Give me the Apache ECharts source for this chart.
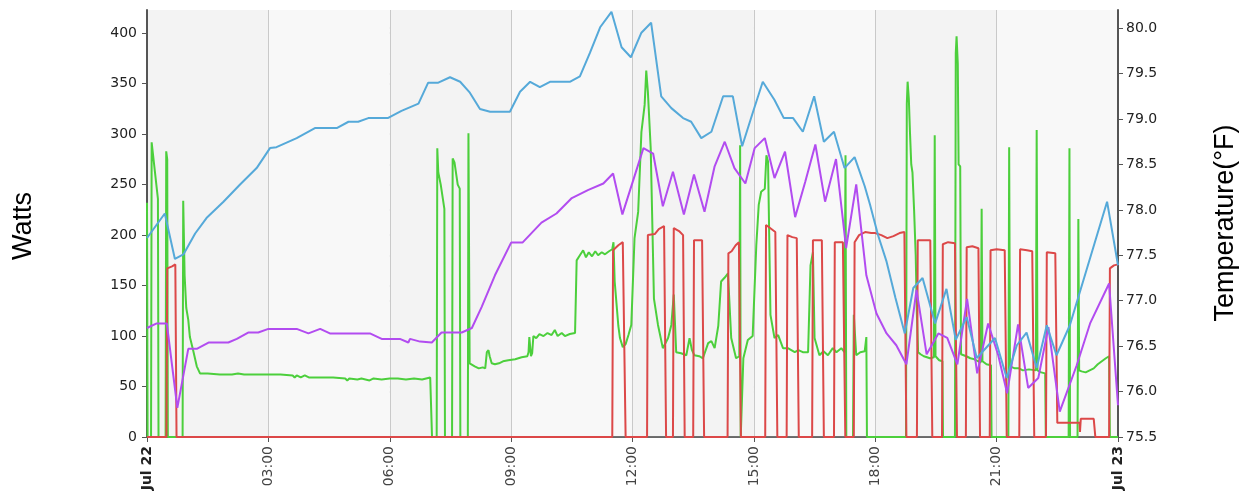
<!DOCTYPE html>
<html>
<head>
<meta charset="utf-8">
<script src="https://cdn.jsdelivr.net/npm/echarts@6/dist/echarts.min.js"></script>
<style>
  html, body { margin: 0; padding: 0; background: #ffffff; }
  #chart { width: 1247px; height: 500px; }
</style>
</head>
<body>
<div id="chart"></div>
<script>
// Hours since midnight on Jul 22, one tick every three hours
const timeTicks = [0, 3, 6, 9, 12, 15, 18, 21, 24];
const timeTickLabels = ['Jul 22', '03:00', '06:00', '09:00', '12:00', '15:00', '18:00', '21:00', 'Jul 23'];
const wattTicks = [0, 50, 100, 150, 200, 250, 300, 350, 400];
const tempTicks = [75.5, 76.0, 76.5, 77.0, 77.5, 78.0, 78.5, 79.0, 79.5, 80.0];

// Temperature readings [hour, °F]
const tempBlue = [
  [0, 77.69], [0.44, 77.96], [0.69, 77.46], [0.90, 77.51], [1.19, 77.74], [1.47, 77.91],
  [1.89, 78.09], [2.30, 78.28], [2.71, 78.46], [3.04, 78.68], [3.20, 78.69], [3.70, 78.79],
  [4.15, 78.90], [4.69, 78.90], [4.98, 78.97], [5.22, 78.97], [5.47, 79.01], [5.95, 79.01],
  [6.29, 79.09], [6.71, 79.17], [6.95, 79.40], [7.20, 79.40], [7.49, 79.46], [7.74, 79.41],
  [7.98, 79.29], [8.23, 79.11], [8.48, 79.08], [8.97, 79.08], [9.22, 79.30], [9.47, 79.41],
  [9.71, 79.35], [9.96, 79.41], [10.45, 79.41], [10.70, 79.47], [10.95, 79.73], [11.20, 80.01],
  [11.48, 80.18], [11.73, 79.79], [11.96, 79.68], [12.22, 79.95], [12.46, 80.06], [12.71, 79.25],
  [12.96, 79.12], [13.25, 79.01], [13.45, 78.97], [13.70, 78.79], [13.95, 78.86], [14.24, 79.25],
  [14.48, 79.25], [14.71, 78.70], [14.98, 79.08], [15.22, 79.41], [15.51, 79.21], [15.74, 79.01],
  [15.97, 79.01], [16.21, 78.86], [16.49, 79.25], [16.73, 78.75], [16.98, 78.86], [17.24, 78.46],
  [17.49, 78.58], [17.74, 78.26], [17.87, 78.06], [18.07, 77.72], [18.28, 77.43], [18.50, 77.03],
  [18.73, 76.64], [18.94, 77.14], [19.17, 77.25], [19.48, 76.75], [19.76, 77.13], [19.99, 76.57],
  [20.26, 76.82], [20.51, 76.37], [20.96, 76.59], [21.25, 76.15], [21.50, 76.51], [21.74, 76.65],
  [21.99, 76.26], [22.24, 76.73], [22.48, 76.40], [22.81, 76.73], [23.73, 78.09], [24, 77.39]
];

const tempPurple = [
  [0, 76.70], [0.24, 76.75], [0.49, 76.75], [0.75, 75.82], [1.02, 76.47], [1.23, 76.47],
  [1.52, 76.54], [2.01, 76.54], [2.22, 76.58], [2.50, 76.65], [2.75, 76.65], [3.00, 76.69],
  [3.70, 76.69], [3.99, 76.64], [4.28, 76.69], [4.52, 76.64], [5.51, 76.64], [5.80, 76.58],
  [6.25, 76.58], [6.46, 76.54], [6.50, 76.58], [6.75, 76.55], [7.04, 76.54], [7.28, 76.65],
  [7.78, 76.65], [8.03, 76.70], [8.27, 76.93], [8.60, 77.28], [9.00, 77.64], [9.28, 77.64],
  [9.75, 77.86], [10.12, 77.96], [10.50, 78.13], [10.91, 78.22], [11.28, 78.29], [11.52, 78.40],
  [11.75, 77.95], [12.27, 78.68], [12.51, 78.62], [12.75, 78.04], [13.00, 78.42], [13.27, 77.95],
  [13.52, 78.39], [13.78, 77.98], [14.03, 78.48], [14.28, 78.75], [14.52, 78.46], [14.79, 78.29],
  [15.02, 78.68], [15.27, 78.79], [15.51, 78.35], [15.77, 78.64], [16.02, 77.92], [16.27, 78.31],
  [16.52, 78.72], [16.76, 78.09], [17.03, 78.56], [17.28, 77.58], [17.53, 78.28], [17.78, 77.28],
  [18.03, 76.86], [18.28, 76.64], [18.52, 76.51], [18.77, 76.30], [19.02, 77.12], [19.27, 76.41],
  [19.56, 76.64], [19.78, 76.59], [20.03, 76.30], [20.27, 77.02], [20.52, 76.20], [20.79, 76.75],
  [21.04, 76.40], [21.26, 75.98], [21.53, 76.74], [21.78, 76.04], [22.03, 76.15], [22.28, 76.71],
  [22.56, 75.78], [22.98, 76.29], [23.31, 76.75], [23.78, 77.19], [24, 75.85]
];

// Power readings [hour, W]
const wattsGreen = [
  [0, 232], [0.015, 0], [0.10, 0], [0.115, 292], [0.27, 236], [0.285, 0], [0.46, 0], [0.475, 283],
  [0.50, 275], [0.515, 0], [0.88, 0], [0.895, 234], [0.93, 160], [0.97, 128], [1.02, 116],
  [1.06, 99], [1.14, 86], [1.23, 70], [1.31, 63], [1.50, 63], [1.80, 62], [2.10, 62], [2.25, 63],
  [2.40, 62], [2.70, 62], [3.00, 62], [3.30, 62], [3.60, 61], [3.65, 59], [3.70, 61], [3.80, 59],
  [3.90, 61], [4.00, 59], [4.30, 59], [4.60, 59], [4.90, 58], [4.95, 56], [5.00, 58], [5.20, 57],
  [5.30, 58], [5.50, 56], [5.60, 58], [5.80, 57], [6.00, 58], [6.20, 58], [6.40, 57], [6.60, 58],
  [6.80, 57], [7.00, 59], [7.03, 58], [7.045, 0], [7.16, 0], [7.175, 286], [7.20, 262],
  [7.26, 250], [7.35, 226], [7.365, 0], [7.54, 0], [7.555, 276], [7.60, 272], [7.68, 250],
  [7.73, 246], [7.745, 0], [7.93, 0], [7.945, 301], [7.975, 73], [8.10, 70], [8.20, 68],
  [8.30, 69], [8.36, 68], [8.40, 84], [8.44, 86], [8.47, 80], [8.52, 73], [8.60, 72], [8.70, 73],
  [8.80, 75], [8.93, 76], [9.10, 77], [9.26, 79], [9.40, 80], [9.43, 84], [9.45, 99], [9.49, 80],
  [9.52, 83], [9.55, 100], [9.62, 98], [9.70, 102], [9.80, 100], [9.90, 103], [10.00, 101],
  [10.08, 106], [10.15, 100], [10.25, 103], [10.33, 100], [10.45, 102], [10.58, 103], [10.62, 175],
  [10.70, 180], [10.78, 185], [10.85, 178], [10.92, 183], [11.00, 179], [11.08, 184], [11.15, 180],
  [11.24, 183], [11.32, 181], [11.42, 184], [11.50, 186], [11.53, 193], [11.56, 154], [11.65, 110],
  [11.69, 98], [11.76, 89], [11.83, 92], [11.90, 101], [11.97, 111], [12.05, 197], [12.14, 223],
  [12.22, 302], [12.30, 329], [12.34, 363], [12.38, 342], [12.45, 286], [12.53, 137], [12.63, 111],
  [12.75, 88], [12.88, 98], [12.96, 111], [13.02, 141], [13.08, 84], [13.20, 83], [13.33, 81],
  [13.41, 98], [13.47, 86], [13.53, 81], [13.65, 80], [13.74, 78], [13.87, 93], [13.95, 95],
  [14.03, 88], [14.12, 110], [14.19, 154], [14.28, 158], [14.36, 162], [14.44, 98], [14.56, 78],
  [14.64, 80], [14.66, 289], [14.675, 0], [14.72, 0], [14.74, 78], [14.85, 96], [14.97, 100],
  [15.06, 190], [15.12, 230], [15.18, 243], [15.27, 246], [15.31, 279], [15.35, 273], [15.41, 121],
  [15.51, 98], [15.60, 101], [15.72, 88], [15.84, 88], [16.01, 84], [16.10, 86], [16.21, 84],
  [16.34, 84], [16.40, 170], [16.46, 183], [16.50, 98], [16.62, 81], [16.72, 85], [16.83, 81],
  [16.95, 88], [17.04, 84], [17.16, 88], [17.24, 84], [17.265, 279], [17.285, 0], [17.45, 0],
  [17.47, 121], [17.53, 81], [17.63, 84], [17.74, 85], [17.78, 99], [17.795, 0], [18.76, 0],
  [18.78, 330], [18.80, 352], [18.83, 335], [18.86, 300], [18.89, 270], [18.92, 262], [18.96, 225],
  [19.00, 180], [19.03, 120], [19.06, 84], [19.12, 82], [19.20, 80], [19.28, 79], [19.35, 78],
  [19.45, 79], [19.47, 299], [19.49, 80], [19.58, 76], [19.66, 75], [19.675, 0], [19.97, 0],
  [19.99, 380], [20.01, 397], [20.04, 370], [20.06, 270], [20.10, 268], [20.12, 82], [20.25, 80],
  [20.35, 78], [20.45, 77], [20.55, 75], [20.61, 74], [20.63, 226], [20.65, 75], [20.75, 72],
  [20.86, 71], [20.875, 0], [21.29, 0], [21.31, 287], [21.33, 70], [21.45, 68], [21.55, 68],
  [21.65, 66], [21.80, 67], [21.97, 66], [21.99, 304], [22.01, 66], [22.10, 64], [22.20, 63],
  [22.215, 0], [22.78, 0], [22.80, 286], [22.815, 0], [23.00, 0], [23.02, 216], [23.04, 66],
  [23.10, 65], [23.20, 64], [23.30, 66], [23.40, 68], [23.50, 72], [23.60, 75], [23.70, 78],
  [23.78, 80], [23.80, 0], [24, 0]
];

const wattsRed = [
  [0, 0], [0.48, 0], [0.50, 167], [0.62, 169], [0.70, 171], [0.73, 0], [11.50, 0], [11.52, 185],
  [11.65, 190], [11.76, 193], [11.83, 0], [12.36, 0], [12.38, 200], [12.55, 201], [12.65, 206],
  [12.78, 209], [12.83, 0], [13.00, 0], [13.02, 207], [13.15, 204], [13.25, 200], [13.29, 0],
  [13.50, 0], [13.52, 195], [13.72, 195], [13.77, 0], [14.35, 0], [14.37, 182], [14.45, 184],
  [14.55, 190], [14.63, 193], [14.68, 0], [15.28, 0], [15.30, 210], [15.40, 207], [15.53, 203],
  [15.58, 0], [15.81, 0], [15.83, 200], [15.95, 198], [16.06, 197], [16.11, 0], [16.44, 0],
  [16.46, 195], [16.68, 195], [16.73, 0], [16.98, 0], [17.00, 193], [17.20, 193], [17.26, 0],
  [17.47, 0], [17.49, 193], [17.60, 200], [17.75, 203], [17.90, 202], [18.00, 202], [18.15, 200],
  [18.30, 197], [18.45, 199], [18.60, 202], [18.72, 203], [18.77, 0], [19.03, 0], [19.05, 195],
  [19.36, 195], [19.41, 0], [19.65, 0], [19.67, 191], [19.80, 193], [19.97, 192], [20.02, 0],
  [20.24, 0], [20.26, 188], [20.40, 189], [20.55, 187], [20.59, 0], [20.83, 0], [20.85, 185],
  [21.00, 186], [21.20, 185], [21.25, 0], [21.56, 0], [21.58, 186], [21.75, 185], [21.88, 184],
  [21.93, 0], [22.22, 0], [22.24, 183], [22.45, 182], [22.50, 14], [23.05, 14], [23.06, 5],
  [23.08, 18], [23.40, 18], [23.44, 0], [23.78, 0], [23.80, 167], [23.90, 170], [24, 171]
];

const labelFont = 'DejaVu Sans';
const nameFont = '"Liberation Sans", Arial, sans-serif';

const chart = echarts.init(document.getElementById('chart'), null, { renderer: 'canvas' });

function lineSeries(name, data, color, yAxisIndex) {
  return {
    name: name,
    type: 'line',
    yAxisIndex: yAxisIndex,
    data: data,
    showSymbol: false,
    symbol: 'none',
    smooth: false,
    lineStyle: { color: color, width: 2 },
    itemStyle: { color: color },
    emphasis: { disabled: true }
  };
}

chart.setOption({
  animation: false,
  backgroundColor: '#ffffff',
  grid: { left: 147, right: 129, top: 10, bottom: 63, containLabel: false },
  xAxis: {
    type: 'value',
    min: 0,
    max: 24,
    interval: 3,
    axisLine: { show: true, onZero: false, lineStyle: { color: '#444', width: 1.5 } },
    axisTick: { show: true, length: 5, lineStyle: { color: '#555' } },
    axisLabel: {
      rotate: 90,
      margin: 9,
      color: '#444',
      fontFamily: labelFont,
      fontSize: 14,
      formatter: function (v) {
        const i = timeTicks.indexOf(v);
        if (i < 0) return '';
        const t = timeTickLabels[i];
        return (i === 0 || i === timeTicks.length - 1) ? '{d|' + t + '}' : t;
      },
      rich: {
        d: { fontFamily: labelFont, fontSize: 14, fontWeight: 'bold', color: '#222' }
      }
    },
    splitLine: { show: true, lineStyle: { color: '#c9c9c9', width: 1 } },
    splitArea: { show: true, areaStyle: { color: ['#f3f3f3', '#f8f8f8'] } }
  },
  yAxis: [
    {
      type: 'value',
      position: 'left',
      min: 0,
      max: 423,
      axisLine: { show: true, lineStyle: { color: '#555', width: 2 } },
      axisTick: { show: true, length: 5, customValues: wattTicks, lineStyle: { color: '#555' } },
      axisLabel: {
        customValues: wattTicks,
        margin: 10,
        color: '#222',
        fontFamily: labelFont,
        fontSize: 14
      },
      splitLine: { show: true, lineStyle: { color: '#d2d2d2', width: 1.5 } }
    },
    {
      type: 'value',
      position: 'right',
      min: 75.5,
      max: 80.2,
      axisLine: { show: true, lineStyle: { color: '#555', width: 2 } },
      axisTick: { show: true, length: 5, customValues: tempTicks, lineStyle: { color: '#555' } },
      axisLabel: {
        customValues: tempTicks,
        margin: 8,
        color: '#222',
        fontFamily: labelFont,
        fontSize: 14,
        formatter: function (v) { return v.toFixed(1); }
      },
      splitLine: { show: true, lineStyle: { color: '#d2d2d2', width: 1.5 } }
    }
  ],
  graphic: [
    {
      type: 'text',
      x: 24, y: 226,
      rotation: Math.PI / 2,
      style: {
        text: 'Watts',
        font: '27px ' + nameFont,
        fill: '#000',
        align: 'center',
        verticalAlign: 'middle'
      }
    },
    {
      type: 'text',
      x: 1226, y: 223,
      rotation: Math.PI / 2,
      style: {
        text: 'Temperature(°F)',
        font: '27px ' + nameFont,
        fill: '#000',
        align: 'center',
        verticalAlign: 'middle'
      }
    }
  ],
  series: [
    lineSeries('Power 1', wattsGreen, '#4ccf3c', 0),
    lineSeries('Power 2', wattsRed, '#dc4848', 0),
    lineSeries('Temperature 2', tempPurple, '#b24cf0', 1),
    lineSeries('Temperature 1', tempBlue, '#55a9d9', 1)
  ]
});
</script>
</body>
</html>
